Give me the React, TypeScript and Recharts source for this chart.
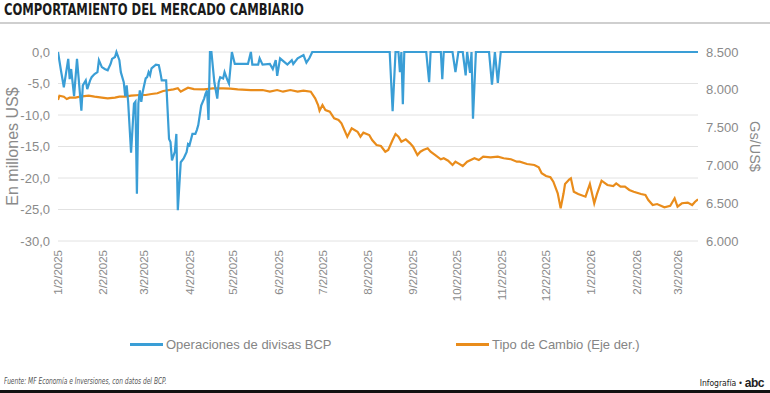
import { LineChart, Line, XAxis, YAxis, CartesianGrid } from 'recharts'

const tickLabels = [
    '1/2/2025', '2/2/2025', '3/2/2025', '4/2/2025', '5/2/2025', '6/2/2025', '7/2/2025', '8/2/2025',
    '9/2/2025', '10/2/2025', '11/2/2025', '12/2/2025', '1/2/2026', '2/2/2026', '3/2/2026',
]
const leftTicks = [-30, -25, -20, -15, -10, -5, 0]
const rightTicks = [6000, 6500, 7000, 7500, 8000, 8500]

// Operaciones de divisas BCP (millones US$)
const bcpDates = [
    '2025-01-02', '2025-01-04', '2025-01-06', '2025-01-09', '2025-01-10', '2025-01-11', '2025-01-13', '2025-01-15',
    '2025-01-18', '2025-01-19', '2025-01-21', '2025-01-22', '2025-01-24', '2025-01-25', '2025-01-27', '2025-01-29',
    '2025-01-30', '2025-02-01', '2025-02-03', '2025-02-05', '2025-02-07', '2025-02-08', '2025-02-10', '2025-02-11',
    '2025-02-13', '2025-02-14', '2025-02-16', '2025-02-17', '2025-02-18', '2025-02-19', '2025-02-21', '2025-02-23',
    '2025-02-24', '2025-02-25', '2025-02-26', '2025-02-27', '2025-02-28', '2025-03-01', '2025-03-03', '2025-03-04',
    '2025-03-05', '2025-03-06', '2025-03-07', '2025-03-08', '2025-03-10', '2025-03-12', '2025-03-13', '2025-03-14',
    '2025-03-17', '2025-03-19', '2025-03-20', '2025-03-21', '2025-03-23', '2025-03-24', '2025-03-25', '2025-03-27',
    '2025-03-29', '2025-03-30', '2025-03-31', '2025-04-01', '2025-04-02', '2025-04-04', '2025-04-06', '2025-04-07',
    '2025-04-08', '2025-04-10', '2025-04-12', '2025-04-13', '2025-04-14', '2025-04-15', '2025-04-16', '2025-04-17',
    '2025-04-19', '2025-04-21', '2025-04-22', '2025-04-23', '2025-04-25', '2025-04-26', '2025-04-28', '2025-04-29',
    '2025-05-01', '2025-05-03', '2025-05-12', '2025-05-14', '2025-05-15', '2025-05-19', '2025-05-20', '2025-05-22',
    '2025-05-27', '2025-05-29', '2025-05-31', '2025-06-01', '2025-06-03', '2025-06-06', '2025-06-08', '2025-06-11',
    '2025-06-12', '2025-06-15', '2025-06-19', '2025-06-21', '2025-06-23', '2025-06-25',
    '2025-08-17', '2025-08-19', '2025-08-21', '2025-08-23', '2025-08-24', '2025-08-25', '2025-08-26', '2025-08-27',
    '2025-09-11', '2025-09-13', '2025-09-14', '2025-09-21', '2025-09-22', '2025-09-23', '2025-09-29', '2025-10-01',
    '2025-10-03', '2025-10-06', '2025-10-08', '2025-10-09', '2025-10-11', '2025-10-12', '2025-10-13', '2025-10-15',
    '2025-10-24', '2025-10-26', '2025-10-28', '2025-10-30', '2025-11-01', '2026-03-16',
]
const bcpValues = [
    0, -2.9, -5.6, -1.1, -4.3, -2.7, -7.0, -1.1,
    -9.3, -5.3, -4.5, -5.9, -4.5, -4.0, -3.5, -3.2,
    -1.3, -2.4, -2.7, -2.9, -1.9, -1.1, -0.8, 0,
    -1.3, -3.2, -4.8, -7.0, -5.3, -7.9, -16.0, -8.2,
    -7.9, -22.5, -8.2, -6.1, -7.9, -6.3, -4.2, -4.0,
    -3.2, -3.7, -2.6, -2.4, -2.0, -2.1, -3.2, -4.5,
    -4.5, -13.8, -14.3, -17.2, -15.8, -13.0, -25.1, -17.5,
    -16.9, -16.4, -15.9, -14.6, -14.8, -13.0, -13.0, -12.4,
    -11.6, -8.5, -7.4, -6.6, -6.1, -10.8, 0, 0,
    -4.8, -7.4, -4.8, -4.0, -4.2, -3.2, -4.5, -5.0,
    0, -1.9, -1.9, 0, -2.0, -2.0, -1.0, -2.0,
    -1.9, -2.7, -1.3, -3.8, -1.0, -1.6, -2.0, -1.3,
    -1.9, -1.0, -0.5, -1.7, -1.0, 0,
    0, -9.4, 0, 0, -3.2, 0, -8.3, 0,
    0, -4.8, 0, 0, -4.3, 0, 0, -3.2,
    0, 0, -3.7, 0, -3.3, 0, -10.6, 0,
    0, -5.2, 0, -4.9, 0, 0,
]

// Tipo de cambio (Gs/US$)
const fxDates = [
    '2025-01-02', '2025-01-03', '2025-01-06', '2025-01-08', '2025-01-10', '2025-01-14', '2025-01-17', '2025-01-23',
    '2025-01-27', '2025-02-01', '2025-02-05', '2025-02-10', '2025-02-13', '2025-02-17', '2025-02-21', '2025-02-27',
    '2025-03-03', '2025-03-07', '2025-03-11', '2025-03-15', '2025-03-22', '2025-03-25', '2025-03-27', '2025-03-29',
    '2025-04-01', '2025-04-05', '2025-04-12', '2025-04-18', '2025-04-25', '2025-04-30', '2025-05-05', '2025-05-14',
    '2025-05-22', '2025-05-27', '2025-06-01', '2025-06-05', '2025-06-10', '2025-06-15', '2025-06-19', '2025-06-24',
    '2025-06-27', '2025-06-29', '2025-06-30', '2025-07-02', '2025-07-04', '2025-07-07', '2025-07-10', '2025-07-13',
    '2025-07-15', '2025-07-19', '2025-07-22', '2025-07-26', '2025-07-28', '2025-07-30', '2025-08-03', '2025-08-05',
    '2025-08-08', '2025-08-11', '2025-08-14', '2025-08-16', '2025-08-19', '2025-08-21', '2025-08-23', '2025-08-25',
    '2025-08-28', '2025-08-31', '2025-09-02', '2025-09-05', '2025-09-07', '2025-09-09', '2025-09-12', '2025-09-14',
    '2025-09-17', '2025-09-21', '2025-09-23', '2025-09-26', '2025-09-29', '2025-10-01', '2025-10-03', '2025-10-06',
    '2025-10-09', '2025-10-14', '2025-10-17', '2025-10-20', '2025-10-25', '2025-10-30', '2025-11-03', '2025-11-08',
    '2025-11-12', '2025-11-14', '2025-11-19', '2025-11-24', '2025-11-27', '2025-11-29', '2025-12-02', '2025-12-05',
    '2025-12-07', '2025-12-10', '2025-12-12', '2025-12-14', '2025-12-15', '2025-12-18', '2025-12-19', '2025-12-21',
    '2025-12-24', '2025-12-29', '2026-01-01', '2026-01-04', '2026-01-06', '2026-01-09', '2026-01-13', '2026-01-17',
    '2026-01-19', '2026-01-22', '2026-01-25', '2026-01-28', '2026-01-31', '2026-02-05', '2026-02-08', '2026-02-10',
    '2026-02-13', '2026-02-16', '2026-02-21', '2026-02-25', '2026-02-28', '2026-03-02', '2026-03-05', '2026-03-09',
    '2026-03-12', '2026-03-14', '2026-03-16',
]
const fxValues = [
    7865, 7922, 7909, 7878, 7896, 7896, 7909, 7922,
    7909, 7896, 7887, 7896, 7909, 7909, 7922, 7931,
    7931, 7944, 7954, 7984, 8006, 8020, 7975, 7997,
    8028, 8010, 8006, 8020, 8020, 8015, 8006, 7997,
    7997, 7975, 7997, 7975, 7997, 7975, 7988, 7975,
    7887, 7799, 7724, 7799, 7733, 7711, 7623, 7601,
    7557, 7380, 7491, 7446, 7380, 7433, 7402, 7336,
    7270, 7257, 7181, 7204, 7336, 7415, 7380, 7314,
    7345, 7292, 7248, 7138, 7181, 7204, 7226, 7181,
    7138, 7081, 7094, 7062, 7005, 7049, 7027, 6992,
    7049, 7094, 7071, 7115, 7106, 7115, 7094, 7081,
    7049, 7049, 7019, 7005, 6975, 6896, 6860, 6843,
    6785, 6631, 6433, 6631, 6754, 6816, 6829, 6652,
    6622, 6586, 6754, 6499, 6631, 6798, 6741, 6728,
    6763, 6718, 6718, 6675, 6652, 6622, 6608, 6542,
    6476, 6489, 6446, 6467, 6565, 6454, 6499, 6508,
    6476, 6520, 6552,
]

const toTime = (iso: string) => {
    const [y, m, d] = iso.split('-').map(Number)
    return Date.UTC(y, m - 1, d)
}
const labelToTime = (label: string) => {
    const [m, d, y] = label.split('/').map(Number)
    return Date.UTC(y, m - 1, d)
}

const bcpData = bcpDates.map((d, i) => ({ t: toTime(d), v: bcpValues[i] }))
const fxData = fxDates.map((d, i) => ({ t: toTime(d), v: fxValues[i] }))
const xTicks = tickLabels.map(labelToTime)
const xDomain = [toTime('2025-01-02'), toTime('2026-03-16')]

const BLUE = '#3a9ed6'
const ORANGE = '#e98c1b'
const GRID = '#e2e2e2'
const TEXT = '#8a8a8a'
const FONT = "'Liberation Sans', Arial, sans-serif"
const NARROW = "'Liberation Sans Narrow', 'DejaVu Sans Condensed', sans-serif"

const fmtDate = (t: number) => {
    const d = new Date(t)
    return `${d.getUTCMonth() + 1}/${d.getUTCDate()}/${d.getUTCFullYear()}`
}
const fmtLeft = (v: number) => v.toFixed(1).replace('.', ',')
const fmtRight = (v: number) => v.toLocaleString('de-DE')

const DateTick = ({ x, y, payload }: any) => (
    <g transform={`translate(${x},${y})`}>
        <text transform="rotate(-90)" textAnchor="end" dy="0.35em" fill={TEXT} fontSize={11.5} fontFamily={FONT}>
            {fmtDate(payload.value)}
        </text>
    </g>
)

export default function App() {
    return (
        <div style={{ position: 'absolute', left: 0, top: 0, width: 770, height: 393, background: '#fff', fontFamily: FONT, overflow: 'hidden' }}>
            <div style={{ position: 'absolute', left: 4, top: 1, fontFamily: NARROW, fontWeight: 700, fontSize: 15.5, color: '#1a1a1a', whiteSpace: 'nowrap', transform: 'scaleX(0.83)', transformOrigin: 'left top' }}>
                COMPORTAMIENTO DEL MERCADO CAMBIARIO
            </div>
            <div style={{ position: 'absolute', left: 0, top: 22, width: 770, height: 2, background: '#cfcfcf' }} />

            <div style={{ position: 'absolute', left: 0, top: 0 }}>
                <LineChart width={770} height={320} margin={{ top: 52, right: 0, bottom: 0, left: 0 }}>
                    <CartesianGrid vertical={false} stroke={GRID} yAxisId="left" />
                    <XAxis
                        dataKey="t"
                        type="number"
                        domain={xDomain}
                        ticks={xTicks}
                        allowDataOverflow
                        axisLine={false}
                        tickLine={false}
                        tickMargin={3}
                        height={79}
                        interval={0}
                        tick={<DateTick />}
                    />
                    <XAxis
                        xAxisId="top"
                        dataKey="t"
                        type="number"
                        orientation="top"
                        mirror
                        domain={xDomain}
                        ticks={xTicks}
                        allowDataOverflow
                        height={0}
                        axisLine={false}
                        tickSize={4}
                        tickLine={{ stroke: '#cccccc' }}
                        tick={() => <g />}
                    />
                    <YAxis
                        yAxisId="left"
                        domain={[-30, 0]}
                        ticks={leftTicks}
                        tickFormatter={fmtLeft}
                        axisLine={false}
                        tickLine={false}
                        width={58}
                        tick={{ fill: TEXT, fontSize: 13, fontFamily: FONT }}
                        label={{ value: 'En millones US$', angle: -90, position: 'center', dx: -17, fill: TEXT, fontSize: 16, fontFamily: FONT }}
                    />
                    <YAxis
                        yAxisId="right"
                        orientation="right"
                        domain={[6000, 8500]}
                        ticks={rightTicks}
                        tickFormatter={fmtRight}
                        axisLine={false}
                        tickLine={false}
                        width={72}
                        tick={{ fill: TEXT, fontSize: 13, fontFamily: FONT, textAnchor: 'start' }}
                        label={{ value: 'Gs/US$', angle: 90, position: 'center', dx: 21, fill: TEXT, fontSize: 14.5, fontFamily: FONT }}
                    />
                    <Line
                        yAxisId="right"
                        data={fxData}
                        dataKey="v"
                        stroke={ORANGE}
                        strokeWidth={2.2}
                        dot={false}
                        isAnimationActive={false}
                    />
                    <Line
                        yAxisId="left"
                        data={bcpData}
                        dataKey="v"
                        stroke={BLUE}
                        strokeWidth={2.2}
                        dot={false}
                        isAnimationActive={false}
                    />
                </LineChart>
            </div>

            <div style={{ position: 'absolute', left: 130, top: 337, display: 'flex', alignItems: 'center', color: '#858585', fontSize: 13 }}>
                <span style={{ display: 'inline-block', width: 33, height: 3, background: BLUE, marginRight: 3 }} />
                Operaciones de divisas BCP
            </div>
            <div style={{ position: 'absolute', left: 456, top: 337, display: 'flex', alignItems: 'center', color: '#858585', fontSize: 13 }}>
                <span style={{ display: 'inline-block', width: 33, height: 3, background: ORANGE, marginRight: 3 }} />
                Tipo de Cambio (Eje der.)
            </div>

            <div style={{ position: 'absolute', left: 4, top: 377, fontSize: 8, fontStyle: 'italic', color: '#555', fontFamily: NARROW, whiteSpace: 'nowrap', transform: 'scaleX(0.82)', transformOrigin: 'left top' }}>
                Fuente: MF Economía e Inversiones, con datos del BCP.
            </div>
            <div style={{ position: 'absolute', right: 6, top: 376, fontSize: 8.5, color: '#222', fontFamily: NARROW, display: 'flex', alignItems: 'center', gap: 2, whiteSpace: 'nowrap' }}>
                <span>Infografía</span>
                <span>•</span>
                <span style={{ fontWeight: 900, fontSize: 12, fontFamily: FONT, letterSpacing: -0.5 }}>abc</span>
            </div>
            <div style={{ position: 'absolute', left: 0, top: 390, width: 770, height: 3, background: '#111' }} />
        </div>
    )
}
